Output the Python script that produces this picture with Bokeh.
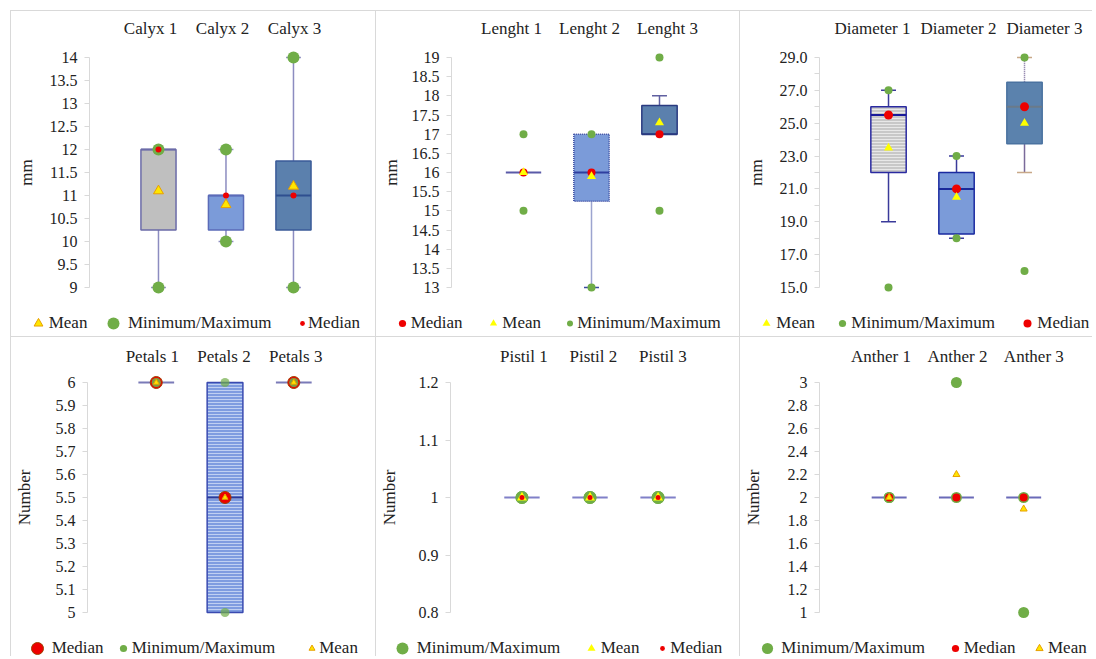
from bokeh.plotting import figure
from bokeh.layouts import column, row
from bokeh.models import (Range1d, FixedTicker, NumeralTickFormatter, Legend, LegendItem,
                          LinearAxis)
from bokeh.embed import file_html
from bokeh.resources import INLINE

FONT = "Liberation Serif"
TEXT = "#222222"

# ---------------- data ----------------
calyx_labels = ["Calyx 1", "Calyx 2", "Calyx 3"]
calyx_q1 = [10.25, 10.25, 10.25]
calyx_q3 = [12.0, 11.0, 11.75]
calyx_median = [12.0, 11.0, 11.0]
calyx_mean = [11.1, 10.8, 11.2]
calyx_min = [9.0, 10.0, 9.0]
calyx_max = [12.0, 12.0, 14.0]
calyx_whisker_low = [9.0, 10.0, 9.0]
calyx_whisker_high = [12.0, 12.0, 14.0]
calyx_ticks = [9, 9.5, 10, 10.5, 11, 11.5, 12, 12.5, 13, 13.5, 14]

length_labels = ["Lenght 1", "Lenght 2", "Lenght 3"]
length_q1 = [16.0, 15.25, 17.0]
length_q3 = [16.0, 17.0, 17.75]
length_median = [16.0, 16.0, 17.0]
length_mean = [16.0, 15.9, 17.3]
length_min = [15.0, 13.0, 15.0]
length_max = [17.0, 17.0, 19.0]
length_whisker_low = [16.0, 13.0, 17.0]
length_whisker_high = [16.0, 17.0, 18.0]
length_ticks = [13, 13.5, 14, 14.5, 15, 15.5, 16, 16.5, 17, 17.5, 18, 18.5, 19]

diameter_labels = ["Diameter 1", "Diameter 2", "Diameter 3"]
diameter_q1 = [22.0, 18.25, 23.75]
diameter_q3 = [26.0, 22.0, 27.5]
diameter_median = [25.5, 21.0, 26.0]
diameter_mean = [23.5, 20.5, 25.0]
diameter_min = [15.0, 18.0, 16.0]
diameter_max = [27.0, 23.0, 29.0]
diameter_whisker_low = [19.0, 18.0, 22.0]
diameter_whisker_high = [27.0, 23.0, 29.0]
diameter_ticks = [15, 17, 19, 21, 23, 25, 27, 29]
diameter_minor_ticks = [16, 18, 20, 22, 24, 26, 28]

petals_labels = ["Petals 1", "Petals 2", "Petals 3"]
petals_q1 = [6.0, 5.0, 6.0]
petals_q3 = [6.0, 6.0, 6.0]
petals_median = [6.0, 5.5, 6.0]
petals_mean = [6.0, 5.5, 6.0]
petals_min = [6.0, 5.0, 6.0]
petals_max = [6.0, 6.0, 6.0]
petals_whisker_low = [6.0, 5.0, 6.0]
petals_whisker_high = [6.0, 6.0, 6.0]
petals_ticks = [5, 5.1, 5.2, 5.3, 5.4, 5.5, 5.6, 5.7, 5.8, 5.9, 6]

pistil_labels = ["Pistil 1", "Pistil 2", "Pistil 3"]
pistil_q1 = [1.0, 1.0, 1.0]
pistil_q3 = [1.0, 1.0, 1.0]
pistil_median = [1.0, 1.0, 1.0]
pistil_mean = [1.0, 1.0, 1.0]
pistil_min = [1.0, 1.0, 1.0]
pistil_max = [1.0, 1.0, 1.0]
pistil_whisker_low = [1.0, 1.0, 1.0]
pistil_whisker_high = [1.0, 1.0, 1.0]
pistil_ticks = [0.8, 0.9, 1.0, 1.1, 1.2]

anther_labels = ["Anther 1", "Anther 2", "Anther 3"]
anther_q1 = [2.0, 2.0, 2.0]
anther_q3 = [2.0, 2.0, 2.0]
anther_median = [2.0, 2.0, 2.0]
anther_mean = [2.0, 2.2, 1.9]
anther_min = [2.0, 2.0, 1.0]
anther_max = [2.0, 3.0, 2.0]
anther_whisker_low = [2.0, 2.0, 2.0]
anther_whisker_high = [2.0, 2.0, 2.0]
anther_ticks = [1, 1.2, 1.4, 1.6, 1.8, 2, 2.2, 2.4, 2.6, 2.8, 3]

# ---------------- styles ----------------
GREEN = "#70ad47"
RED = "#ee0000"
YEL = "#ffe600"
ORANGE = "#e8a000"
BORDER = "1px solid #d9d9d9"
NAMES = {"minmax": "Minimum/Maximum", "median": "Median", "mean": "Mean"}


def bs(fill=None, line="#6b6ba8", med=None, dash="solid", wcol="#8c8cc0", wdash_lo="solid",
       wdash_hi="solid", hatch=None, hatch_color=None, capcol=None):
    return dict(fill=fill, line=line, med=med or line, dash=dash, wcol=wcol, wdash_lo=wdash_lo,
                wdash_hi=wdash_hi, hatch=hatch, hatch_color=hatch_color, capcol=capcol or wcol)


def mk(marker, size, fill, line=None, alpha=1.0):
    return dict(marker=marker, size=size, fill=fill, line=line, alpha=alpha)


def build(labels, q1, q3, med, mean, mn, mx, wlo, whi, ticks, fmt, ylabel, geo, boxes, marks,
          legend_spec, minor=None):
    n = len(labels)
    xs = [i + 1 for i in range(n)]
    lo, hi = ticks[0], ticks[-1]
    pad = (hi - lo) * 10 / 230
    p = figure(width=geo["w"], height=geo["h"], x_range=Range1d(*geo["xr"]),
               y_range=Range1d(lo - pad, hi + pad), x_axis_location=None,
               output_backend="svg", toolbar_location=None,
               min_border_left=geo["l"], min_border_right=geo["r"],
               min_border_top=geo["t"], min_border_bottom=geo["b"])
    p.frame_align = False
    p.styles = {"border-left": BORDER, "border-top": BORDER}
    p.grid.visible = False
    p.outline_line_color = None

    # category labels above, on their own scale
    p.extra_x_ranges = {"lab": Range1d(*geo["lr"])}
    xa = LinearAxis(x_range_name="lab", ticker=FixedTicker(ticks=xs),
                    major_label_overrides={x: lab for x, lab in zip(xs, labels)})
    xa.axis_line_color = None
    xa.major_tick_line_color = None
    xa.minor_tick_line_color = None
    xa.major_tick_out = 0
    xa.major_label_text_font = FONT
    xa.major_label_text_font_size = "17px"
    xa.major_label_text_color = TEXT
    xa.major_label_standoff = geo["xs"]
    p.add_layout(xa, "above")

    ya = p.yaxis[0]
    ya.ticker = FixedTicker(ticks=ticks, minor_ticks=minor or [])
    ya.formatter = NumeralTickFormatter(format=fmt)
    ya.bounds = (lo, hi)
    ya.axis_line_color = "#d9d9d9"
    ya.major_tick_line_color = "#d9d9d9"
    ya.major_tick_out = 5
    ya.major_tick_in = 0
    if minor:
        ya.minor_tick_line_color = "#d9d9d9"
        ya.minor_tick_out = 5
        ya.minor_tick_in = 0
    else:
        ya.minor_tick_line_color = None
    ya.major_label_text_font = FONT
    ya.major_label_text_font_size = "16px"
    ya.major_label_text_color = TEXT
    ya.major_label_standoff = 7
    ya.axis_label = ylabel
    ya.axis_label_text_font = FONT
    ya.axis_label_text_font_size = "17px"
    ya.axis_label_text_font_style = "normal"
    ya.axis_label_text_color = TEXT
    ya.axis_label_standoff = geo["ys"]

    bw = 0.52
    cw = 0.11
    for i in range(n):
        st = boxes[i]
        x = xs[i]
        if wlo[i] < q1[i]:
            p.segment(x0=[x], y0=[wlo[i]], x1=[x], y1=[q1[i]], line_color=st["wcol"],
                      line_width=1.5, line_dash=st["wdash_lo"])
            p.segment(x0=[x - cw], y0=[wlo[i]], x1=[x + cw], y1=[wlo[i]],
                      line_color=st["capcol"], line_width=1.5)
        if whi[i] > q3[i]:
            p.segment(x0=[x], y0=[q3[i]], x1=[x], y1=[whi[i]], line_color=st["wcol"],
                      line_width=1.5, line_dash=st["wdash_hi"])
            p.segment(x0=[x - cw], y0=[whi[i]], x1=[x + cw], y1=[whi[i]],
                      line_color=st["capcol"], line_width=1.5)
        if q3[i] > q1[i]:
            kw = {}
            if st["hatch"]:
                kw = dict(hatch_pattern=st["hatch"], hatch_color=st["hatch_color"],
                          hatch_scale=3, hatch_weight=1)
            p.vbar(x=[x], bottom=[q1[i]], top=[q3[i]], width=bw, fill_color=st["fill"],
                   line_color=st["line"], line_width=1.5, line_dash=st["dash"], **kw)
        p.segment(x0=[x - bw / 2], y0=[med[i]], x1=[x + bw / 2], y1=[med[i]],
                  line_color=st["med"], line_width=2)

    for kind in marks["order"]:
        m = marks[kind]
        if kind == "minmax":
            X, Y = xs + xs, list(mn) + list(mx)
        elif kind == "median":
            X, Y = xs, list(med)
        else:
            X, Y = xs, list(mean)
        p.scatter(x=X, y=Y, marker=m["marker"], size=m["size"], fill_color=m["fill"],
                  fill_alpha=m["alpha"], line_color=m["line"], line_width=1)

    # legend strip below the chart
    lf = figure(width=geo["w"], height=30, x_range=Range1d(0, 1), y_range=Range1d(0, 1),
                x_axis_location=None, y_axis_location=None, output_backend="svg",
                toolbar_location=None, min_border_left=0, min_border_right=0,
                min_border_top=0, min_border_bottom=0)
    lf.frame_align = False
    lf.styles = {"border-left": BORDER}
    lf.outline_line_color = None
    lf.xgrid.visible = False
    lf.ygrid.visible = False
    dummies = {}
    for kind in marks["order"]:
        m = marks[kind]
        dummies[kind] = lf.scatter(x=[-5], y=[-5], marker=m["marker"], size=m["size"],
                                   fill_color=m["fill"], line_color=m["line"], line_width=1)
    left = geo["x0"]
    for kind, gc, ts, size in legend_spec:
        gw = int(round(2.5 * size))
        gh = max(gw, 24)
        x0 = gc - gw / 2 - left
        so = int(round(ts - (gc + gw / 2)))
        leg = Legend(items=[LegendItem(label=NAMES[kind], renderers=[dummies[kind]])],
                     location=(x0, geo["lc"] - gh / 2), margin=0, padding=0,
                     glyph_width=gw, glyph_height=gh, label_standoff=so,
                     label_text_font=FONT, label_text_font_size="17px",
                     label_text_color=TEXT, background_fill_alpha=0, border_line_color=None)
        lf.add_layout(leg, "center")
    return column(p, lf)


row1 = dict(h=296, t=36, b=10, xs=10, lc=13)
row2 = dict(h=290, t=35, b=5, xs=7, lc=8)

p1 = build(calyx_labels, calyx_q1, calyx_q3, calyx_median, calyx_mean, calyx_min, calyx_max,
           calyx_whisker_low, calyx_whisker_high, calyx_ticks, "0[.]0", "mm",
           dict(row1, w=365, x0=11, l=78, r=11, xr=(-0.022, 4.067), lr=(0.153, 3.986), ys=11),
           [bs("#bfbfbf", "#6b6ba8"), bs("#7b9bd9", "#5b6bb8"), bs("#5b80ad", "#3a5a98", med="#2f4f8f")],
           dict(order=["minmax", "median", "mean"], minmax=mk("circle", 12, GREEN),
                median=mk("circle", 6, RED), mean=mk("triangle", 10, YEL, ORANGE)),
           [("mean", 37.7, 46.7, 9), ("minmax", 113, 121.7, 12), ("median", 302, 306.7, 5)])

p2 = build(length_labels, length_q1, length_q3, length_median, length_mean, length_min, length_max,
           length_whisker_low, length_whisker_high, length_ticks, "0[.]0", "mm",
           dict(row1, w=364, x0=377, l=75, r=9, xr=(-0.059, 4.059), lr=(0.231, 3.821), ys=8),
           [bs(None, "#5a5aa8"),
            bs("#7b9bd9", "#3a4aa0", med="#2f3f9f", dash="1 1", wcol="#3a4aa0", wdash_lo="1 1"),
            bs("#5b80ad", "#2a3a80", wcol="#6060a0")],
           dict(order=["minmax", "median", "mean"], minmax=mk("circle", 8, GREEN),
                median=mk("circle", 8, RED), mean=mk("triangle", 9, "#ffff00")),
           [("median", 402.7, 411.7, 7), ("mean", 494.3, 500, 7), ("minmax", 570.7, 576.7, 6)])

p3 = build(diameter_labels, diameter_q1, diameter_q3, diameter_median, diameter_mean, diameter_min,
           diameter_max, diameter_whisker_low, diameter_whisker_high, diameter_ticks, "0.0", "mm",
           dict(row1, w=353, x0=742, l=79, r=5, xr=(-0.015, 3.941), lr=(0.384, 3.512), ys=11),
           [bs("#c8c8c8", "#2a2aa0", med="#1a1a9a", wcol="#3a3a9a", hatch="horizontal_line",
               hatch_color="#e8e8e8"),
            bs("#7b9bd9", "#1a2aa0", med="#1a2a9a", wcol="#3a3a9a"),
            bs("#5b82ad", "#4a72a0", med="#6a7a8a", wcol="#7a6a9a", wdash_hi="1 1",
               capcol="#c8a888")],
           dict(order=["minmax", "median", "mean"], minmax=mk("circle", 8, GREEN),
                median=mk("circle", 9, RED), mean=mk("triangle", 9, "#ffff00")),
           [("mean", 768.3, 777, 8), ("minmax", 844.3, 852.7, 7), ("median", 1029.3, 1036.7, 8)],
           minor=diameter_minor_ticks)

p4 = build(petals_labels, petals_q1, petals_q3, petals_median, petals_mean, petals_min, petals_max,
           petals_whisker_low, petals_whisker_high, petals_ticks, "0[.]0", "Number",
           dict(row2, w=365, x0=11, l=71, r=11, xr=(0.0, 4.043), lr=(0.096, 3.973), ys=19),
           [bs(None, "#7a7ab8"),
            bs("#7f9ce0", "#3a4ab0", med="#2a3a9a", hatch="horizontal_line", hatch_color="#c0d0f2"),
            bs(None, "#7a7ab8")],
           dict(order=["median", "minmax", "mean"], median=mk("circle", 12, RED, "#a04000"),
                minmax=mk("circle", 9, GREEN, None, 0.7), mean=mk("triangle", 6, YEL, ORANGE)),
           [("median", 36.7, 45.7, 12), ("minmax", 122.7, 128.3, 7), ("mean", 311.7, 318.3, 6)])

p5 = build(pistil_labels, pistil_q1, pistil_q3, pistil_median, pistil_mean, pistil_min, pistil_max,
           pistil_whisker_low, pistil_whisker_high, pistil_ticks, "0[.]0", "Number",
           dict(row2, w=364, x0=377, l=68, r=9, xr=(-0.050, 4.079), lr=(-0.056, 3.986), ys=17),
           [bs(None, "#8080c8"), bs(None, "#8080c8"), bs(None, "#8080c8")],
           dict(order=["minmax", "mean", "median"], minmax=mk("circle", 13, GREEN),
                mean=mk("triangle", 10, "#ffff00"), median=mk("circle", 5, RED)),
           [("minmax", 402.7, 412.3, 12), ("mean", 591.7, 596.7, 8), ("median", 663.3, 671, 5)])

p6 = build(anther_labels, anther_q1, anther_q3, anther_median, anther_mean, anther_min, anther_max,
           anther_whisker_low, anther_whisker_high, anther_ticks, "0[.]0", "Number",
           dict(row2, w=353, x0=742, l=70, r=5, xr=(-0.036, 3.964), lr=(0.196, 3.715), ys=22),
           [bs(None, "#6a6ab8"), bs(None, "#6a6ab8"), bs(None, "#6a6ab8")],
           dict(order=["minmax", "median", "mean"], minmax=mk("circle", 11, GREEN),
                median=mk("circle", 8, RED), mean=mk("triangle", 7, YEL, ORANGE)),
           [("minmax", 769.3, 779.3, 11), ("median", 956.7, 962.3, 7), ("mean", 1041, 1047.3, 7)])

layout = column(row(p1, p2, p3), row(p4, p5, p6), margin=(10, 0, 0, 10))
open("out.html", "w").write(file_html(layout, INLINE))
